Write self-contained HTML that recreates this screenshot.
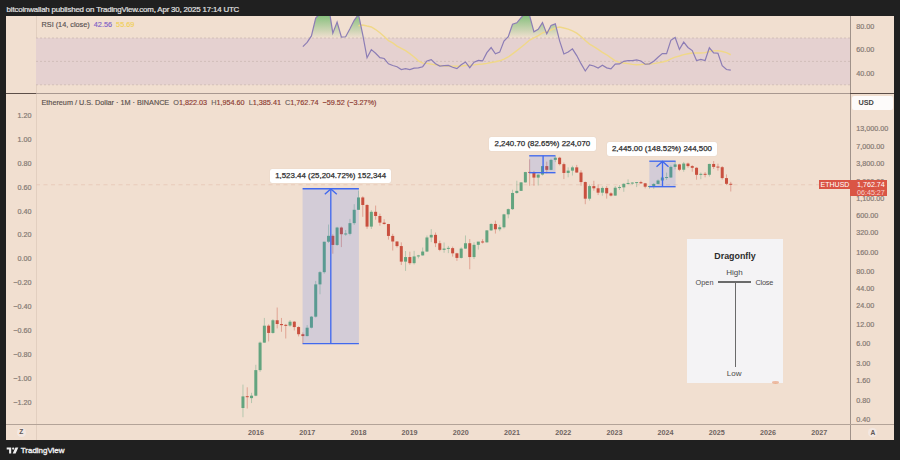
<!DOCTYPE html>
<html><head><meta charset="utf-8">
<style>
*{margin:0;padding:0;box-sizing:border-box}
html,body{width:900px;height:460px;overflow:hidden;background:#202020;font-family:"Liberation Sans",Arial,sans-serif}
.hdr{-webkit-text-stroke:0.2px #e2e2e2;position:absolute;left:6.6px;top:4.6px;font-size:7.9px;letter-spacing:-0.17px;color:#e2e2e2;white-space:nowrap}
.panel{position:absolute;left:6px;top:16px;width:888px;height:424px;background:#f1dfd0;overflow:hidden}
svg{position:absolute;left:0;top:0;overflow:hidden}
.ax{position:absolute;font-size:7.2px;color:#857a74;white-space:nowrap;line-height:1}
.lax{right:868.5px;text-align:right}
.rax{left:856.3px;-webkit-text-stroke:0.2px #857a74;margin-top:0.3px}
.lax{-webkit-text-stroke:0.2px #857a74}
.yr{position:absolute;top:428.5px;font-size:7.2px;font-weight:bold;color:#6e6360;transform:translateX(-50%);line-height:1}
.lbl{position:absolute;background:#fff;border-radius:2px;-webkit-text-stroke:0.25px #2e2e2e;font-size:7.9px;color:#2e2e2e;white-space:nowrap;text-align:center;line-height:14px;box-shadow:0 0 1px rgba(0,0,0,0.15)}
.foot{position:absolute;left:20.8px;top:446px;font-size:7.95px;color:#f0f0f0;font-weight:normal;-webkit-text-stroke:0.35px #f0f0f0;white-space:nowrap}
</style></head><body>
<div class="hdr">bitcoinwallah published on TradingView.com, Apr 30, 2025 17:14 UTC</div>
<div class="panel"></div>
<svg width="900" height="460" viewBox="0 0 900 460" style="position:absolute;left:0;top:0">
  <!-- pane borders -->
  <line x1="36.5" y1="16" x2="36.5" y2="440" stroke="#e2cfc0" stroke-width="1"/>
  <line x1="850.5" y1="16" x2="850.5" y2="440" stroke="#a0928a" stroke-width="1"/>
  <line x1="6" y1="93.5" x2="36" y2="93.5" stroke="#5c4e48" stroke-width="1"/>
  <line x1="36" y1="93.5" x2="850" y2="93.5" stroke="#a89890" stroke-width="1"/>
  <line x1="850" y1="93.5" x2="894" y2="93.5" stroke="#5c4e48" stroke-width="1"/>
  <line x1="6" y1="424.5" x2="894" y2="424.5" stroke="#b3a398" stroke-width="1"/>
</svg>

<svg width="814" height="77" viewBox="36 16 814 77" style="left:36px;top:16px">
  <defs>
    <linearGradient id="gg" x1="0" y1="2.9" x2="0" y2="38.0" gradientUnits="userSpaceOnUse">
      <stop offset="0" stop-color="#4caf50" stop-opacity="1"/>
      <stop offset="1" stop-color="#4caf50" stop-opacity="0"/>
    </linearGradient>
  </defs>
  <rect x="36" y="38.00" width="814" height="46.80" fill="#e5d1d0"/>
  <line x1="36" x2="850" y1="38.00" y2="38.00" stroke="#c9b6b0" stroke-width="0.7" stroke-dasharray="2 2"/>
  <line x1="36" x2="850" y1="61.40" y2="61.40" stroke="#c9b6b0" stroke-width="0.7" stroke-dasharray="2 2"/>
  <line x1="36" x2="850" y1="84.80" y2="84.80" stroke="#c9b6b0" stroke-width="0.7" stroke-dasharray="2 2"/>
  <polygon points="302.87,38.00 302.87,38.00 307.15,38.00 311.43,35.95 315.71,18.13 319.99,13.30 324.26,6.49 328.54,5.77 332.82,33.10 337.10,22.04 341.38,37.00 345.66,36.73 349.94,28.76 354.22,20.28 358.50,14.36 362.77,34.96 367.05,38.00 371.33,38.00 375.61,38.00 379.89,38.00 384.17,38.00 388.45,38.00 392.73,38.00 397.01,38.00 401.29,38.00 405.56,38.00 409.84,38.00 414.12,38.00 418.40,38.00 422.68,38.00 426.96,38.00 431.24,38.00 435.52,38.00 439.80,38.00 444.08,38.00 448.36,38.00 452.63,38.00 456.91,38.00 461.19,38.00 465.47,38.00 469.75,38.00 474.03,38.00 478.31,38.00 482.59,38.00 486.87,38.00 491.14,38.00 495.42,38.00 499.70,38.00 503.98,38.00 508.26,36.67 512.54,24.24 516.82,22.84 521.10,17.71 525.38,12.95 529.66,15.73 533.93,31.86 538.21,29.21 542.49,22.56 546.77,33.85 551.05,25.45 555.33,23.82 559.61,38.00 563.89,38.00 568.17,38.00 572.45,38.00 576.73,38.00 581.00,38.00 585.28,38.00 589.56,38.00 593.84,38.00 598.12,38.00 602.40,38.00 606.68,38.00 610.96,38.00 615.24,38.00 619.51,38.00 623.79,38.00 628.07,38.00 632.35,38.00 636.63,38.00 640.91,38.00 645.19,38.00 649.47,38.00 653.75,38.00 658.03,38.00 662.31,38.00 666.58,38.00 670.86,38.00 675.14,37.46 679.42,38.00 683.70,38.00 687.98,38.00 692.26,38.00 696.54,38.00 700.82,38.00 705.10,38.00 709.37,38.00 713.65,38.00 717.93,38.00 722.21,38.00 726.49,38.00 730.77,38.00 730.77,38.00" fill="url(#gg)"/>
  <polyline points="358.50,25.78 362.77,24.95 367.05,26.04 371.33,27.02 375.61,29.53 379.89,32.70 384.17,36.42 388.45,40.56 392.73,42.88 397.01,46.07 401.29,48.40 405.56,50.68 409.84,53.60 414.12,57.03 418.40,60.85 422.68,63.12 426.96,63.35 431.24,64.07 435.52,64.82 439.80,65.42 444.08,65.93 448.36,66.05 452.63,66.17 456.91,66.31 461.19,65.97 465.47,65.49 469.75,65.34 474.03,64.92 478.31,64.39 482.59,63.98 486.87,63.38 491.14,62.52 495.42,61.80 499.70,60.80 503.98,59.05 508.26,57.00 512.54,53.92 516.82,50.65 521.10,47.29 525.38,43.79 529.66,40.08 533.93,37.90 538.21,35.67 542.49,32.93 546.77,31.59 551.05,30.00 555.33,27.87 559.61,27.06 563.89,27.98 568.17,29.07 572.45,30.83 576.73,33.17 581.00,36.45 585.28,40.60 589.56,44.11 593.84,46.55 598.12,49.31 602.40,52.37 606.68,54.80 610.96,57.90 615.24,60.78 619.51,62.43 623.79,62.95 628.07,63.58 632.35,64.42 636.63,64.72 640.91,64.53 645.19,64.05 649.47,63.97 653.75,63.63 658.03,62.87 662.31,62.04 666.58,61.02 670.86,58.98 675.14,57.07 679.42,56.03 683.70,54.66 687.98,53.72 692.26,53.00 696.54,53.04 700.82,52.93 705.10,52.66 709.37,51.52 713.65,50.91 717.93,50.62 722.21,51.48 726.49,52.62 730.77,54.75" fill="none" stroke="#f0d888" stroke-width="1.4"/>
  <polyline points="302.87,46.63 307.15,42.40 311.43,35.95 315.71,18.13 319.99,13.30 324.26,6.49 328.54,5.77 332.82,33.10 337.10,22.04 341.38,37.00 345.66,36.73 349.94,28.76 354.22,20.28 358.50,14.36 362.77,34.96 367.05,57.74 371.33,49.66 375.61,53.24 379.89,57.71 384.17,58.51 388.45,63.80 392.73,65.52 397.01,66.72 401.29,69.60 405.56,68.69 409.84,69.65 414.12,68.18 418.40,67.91 422.68,66.73 426.96,61.01 431.24,59.66 435.52,63.75 439.80,66.13 444.08,65.63 448.36,65.44 452.63,67.29 456.91,68.69 461.19,64.77 465.47,61.95 469.75,67.68 474.03,62.25 478.31,60.47 482.59,60.93 486.87,52.68 491.14,47.60 495.42,53.73 499.70,52.11 503.98,41.15 508.26,36.67 512.54,24.24 516.82,22.84 521.10,17.71 525.38,12.95 529.66,15.73 533.93,31.86 538.21,29.21 542.49,22.56 546.77,33.85 551.05,25.45 555.33,23.82 559.61,40.84 563.89,54.00 568.17,51.95 572.45,48.85 576.73,55.56 581.00,63.66 585.28,71.01 589.56,64.92 593.84,65.99 598.12,67.95 602.40,65.31 606.68,67.88 610.96,68.82 615.24,64.18 619.51,63.94 623.79,61.29 628.07,60.70 632.35,60.64 636.63,59.80 640.91,61.00 645.19,64.25 649.47,63.81 653.75,61.29 658.03,57.27 662.31,53.64 666.58,53.62 670.86,40.30 675.14,37.46 679.42,49.33 683.70,42.14 687.98,47.46 692.26,50.59 696.54,60.46 700.82,59.39 705.10,60.51 709.37,47.81 713.65,52.81 717.93,53.24 722.21,65.62 726.49,69.55 730.77,70.10" fill="none" stroke="#8c7db5" stroke-width="1.2"/>
</svg>

<svg width="814" height="330.5" viewBox="36 94 814 330.5" style="left:36px;top:94px">
  <line x1="36" x2="850" y1="184.75" y2="184.75" stroke="#e9c6b6" stroke-width="0.8" stroke-dasharray="4 3.5"/>
  <line x1="242.96" y1="384.61" x2="242.96" y2="417.19" stroke="#63a47f" stroke-width="0.7" stroke-opacity="0.6"/>
<rect x="241.46" y="396.39" width="3" height="11.62" fill="#63a47f"/>
<line x1="247.24" y1="387.30" x2="247.24" y2="408.52" stroke="#c9503f" stroke-width="0.7" stroke-opacity="0.6"/>
<rect x="245.74" y="396.19" width="3" height="1.00" fill="#c9503f"/>
<line x1="251.52" y1="392.80" x2="251.52" y2="403.09" stroke="#63a47f" stroke-width="0.7" stroke-opacity="0.6"/>
<rect x="250.02" y="395.69" width="3" height="2.43" fill="#63a47f"/>
<line x1="255.80" y1="364.79" x2="255.80" y2="396.23" stroke="#63a47f" stroke-width="0.7" stroke-opacity="0.6"/>
<rect x="254.30" y="370.11" width="3" height="25.58" fill="#63a47f"/>
<line x1="260.08" y1="341.52" x2="260.08" y2="371.84" stroke="#63a47f" stroke-width="0.7" stroke-opacity="0.6"/>
<rect x="258.58" y="342.62" width="3" height="27.49" fill="#63a47f"/>
<line x1="264.36" y1="317.94" x2="264.36" y2="342.85" stroke="#63a47f" stroke-width="0.7" stroke-opacity="0.6"/>
<rect x="262.86" y="325.68" width="3" height="16.94" fill="#63a47f"/>
<line x1="268.64" y1="324.37" x2="268.64" y2="341.40" stroke="#c9503f" stroke-width="0.7" stroke-opacity="0.6"/>
<rect x="267.14" y="325.68" width="3" height="7.27" fill="#c9503f"/>
<line x1="272.92" y1="319.07" x2="272.92" y2="333.69" stroke="#63a47f" stroke-width="0.7" stroke-opacity="0.6"/>
<rect x="271.42" y="320.26" width="3" height="12.70" fill="#63a47f"/>
<line x1="277.19" y1="307.54" x2="277.19" y2="328.37" stroke="#c9503f" stroke-width="0.7" stroke-opacity="0.6"/>
<rect x="275.69" y="320.26" width="3" height="3.74" fill="#c9503f"/>
<line x1="281.47" y1="317.94" x2="281.47" y2="331.80" stroke="#c9503f" stroke-width="0.7" stroke-opacity="0.6"/>
<rect x="279.97" y="324.00" width="3" height="1.15" fill="#c9503f"/>
<line x1="285.75" y1="323.91" x2="285.75" y2="338.47" stroke="#c9503f" stroke-width="0.7" stroke-opacity="0.6"/>
<rect x="284.25" y="324.85" width="3" height="1.00" fill="#c9503f"/>
<line x1="290.03" y1="320.05" x2="290.03" y2="326.80" stroke="#63a47f" stroke-width="0.7" stroke-opacity="0.6"/>
<rect x="288.53" y="321.70" width="3" height="3.86" fill="#63a47f"/>
<line x1="294.31" y1="321.07" x2="294.31" y2="330.47" stroke="#c9503f" stroke-width="0.7" stroke-opacity="0.6"/>
<rect x="292.81" y="321.70" width="3" height="5.36" fill="#c9503f"/>
<line x1="298.59" y1="326.30" x2="298.59" y2="336.42" stroke="#c9503f" stroke-width="0.7" stroke-opacity="0.6"/>
<rect x="297.09" y="327.06" width="3" height="7.16" fill="#c9503f"/>
<line x1="302.87" y1="332.42" x2="302.87" y2="343.58" stroke="#c9503f" stroke-width="0.7" stroke-opacity="0.6"/>
<rect x="301.37" y="334.22" width="3" height="1.85" fill="#c9503f"/>
<line x1="307.15" y1="325.08" x2="307.15" y2="336.42" stroke="#63a47f" stroke-width="0.7" stroke-opacity="0.6"/>
<rect x="305.65" y="327.71" width="3" height="8.36" fill="#63a47f"/>
<line x1="311.43" y1="315.97" x2="311.43" y2="328.37" stroke="#63a47f" stroke-width="0.7" stroke-opacity="0.6"/>
<rect x="309.93" y="316.67" width="3" height="11.04" fill="#63a47f"/>
<line x1="315.71" y1="280.92" x2="315.71" y2="317.57" stroke="#63a47f" stroke-width="0.7" stroke-opacity="0.6"/>
<rect x="314.21" y="284.38" width="3" height="32.29" fill="#63a47f"/>
<line x1="319.99" y1="271.07" x2="319.99" y2="294.26" stroke="#63a47f" stroke-width="0.7" stroke-opacity="0.6"/>
<rect x="318.49" y="272.17" width="3" height="12.21" fill="#63a47f"/>
<line x1="324.26" y1="241.73" x2="324.26" y2="273.66" stroke="#63a47f" stroke-width="0.7" stroke-opacity="0.6"/>
<rect x="322.76" y="241.73" width="3" height="30.44" fill="#63a47f"/>
<line x1="328.54" y1="224.55" x2="328.54" y2="242.98" stroke="#63a47f" stroke-width="0.7" stroke-opacity="0.6"/>
<rect x="327.04" y="235.83" width="3" height="5.90" fill="#63a47f"/>
<line x1="332.82" y1="234.30" x2="332.82" y2="253.69" stroke="#c9503f" stroke-width="0.7" stroke-opacity="0.6"/>
<rect x="331.32" y="235.83" width="3" height="9.12" fill="#c9503f"/>
<line x1="337.10" y1="226.81" x2="337.10" y2="245.93" stroke="#63a47f" stroke-width="0.7" stroke-opacity="0.6"/>
<rect x="335.60" y="227.54" width="3" height="17.42" fill="#63a47f"/>
<line x1="341.38" y1="226.60" x2="341.38" y2="247.08" stroke="#c9503f" stroke-width="0.7" stroke-opacity="0.6"/>
<rect x="339.88" y="227.54" width="3" height="6.67" fill="#c9503f"/>
<line x1="345.66" y1="229.99" x2="345.66" y2="235.83" stroke="#63a47f" stroke-width="0.7" stroke-opacity="0.6"/>
<rect x="344.16" y="233.47" width="3" height="1.00" fill="#63a47f"/>
<line x1="349.94" y1="218.91" x2="349.94" y2="235.34" stroke="#63a47f" stroke-width="0.7" stroke-opacity="0.6"/>
<rect x="348.44" y="223.14" width="3" height="10.70" fill="#63a47f"/>
<line x1="354.22" y1="204.19" x2="354.22" y2="224.88" stroke="#63a47f" stroke-width="0.7" stroke-opacity="0.6"/>
<rect x="352.72" y="209.80" width="3" height="13.34" fill="#63a47f"/>
<line x1="358.50" y1="190.56" x2="358.50" y2="210.00" stroke="#63a47f" stroke-width="0.7" stroke-opacity="0.6"/>
<rect x="357.00" y="197.46" width="3" height="12.34" fill="#63a47f"/>
<line x1="362.77" y1="196.34" x2="362.77" y2="216.83" stroke="#c9503f" stroke-width="0.7" stroke-opacity="0.6"/>
<rect x="361.27" y="197.46" width="3" height="7.53" fill="#c9503f"/>
<line x1="367.05" y1="204.19" x2="367.05" y2="228.81" stroke="#c9503f" stroke-width="0.7" stroke-opacity="0.6"/>
<rect x="365.55" y="204.99" width="3" height="21.61" fill="#c9503f"/>
<line x1="371.33" y1="210.19" x2="371.33" y2="228.97" stroke="#63a47f" stroke-width="0.7" stroke-opacity="0.6"/>
<rect x="369.83" y="211.82" width="3" height="14.79" fill="#63a47f"/>
<line x1="375.61" y1="205.56" x2="375.61" y2="219.73" stroke="#c9503f" stroke-width="0.7" stroke-opacity="0.6"/>
<rect x="374.11" y="211.82" width="3" height="4.18" fill="#c9503f"/>
<line x1="379.89" y1="213.67" x2="379.89" y2="225.70" stroke="#c9503f" stroke-width="0.7" stroke-opacity="0.6"/>
<rect x="378.39" y="216.00" width="3" height="6.65" fill="#c9503f"/>
<line x1="384.17" y1="219.18" x2="384.17" y2="224.55" stroke="#c9503f" stroke-width="0.7" stroke-opacity="0.6"/>
<rect x="382.67" y="222.64" width="3" height="1.39" fill="#c9503f"/>
<line x1="388.45" y1="223.90" x2="388.45" y2="239.63" stroke="#c9503f" stroke-width="0.7" stroke-opacity="0.6"/>
<rect x="386.95" y="224.03" width="3" height="11.90" fill="#c9503f"/>
<line x1="392.73" y1="233.84" x2="392.73" y2="250.52" stroke="#c9503f" stroke-width="0.7" stroke-opacity="0.6"/>
<rect x="391.23" y="235.93" width="3" height="5.56" fill="#c9503f"/>
<line x1="397.01" y1="241.37" x2="397.01" y2="247.53" stroke="#c9503f" stroke-width="0.7" stroke-opacity="0.6"/>
<rect x="395.51" y="241.49" width="3" height="4.58" fill="#c9503f"/>
<line x1="401.29" y1="242.35" x2="401.29" y2="265.04" stroke="#c9503f" stroke-width="0.7" stroke-opacity="0.6"/>
<rect x="399.79" y="246.07" width="3" height="15.55" fill="#c9503f"/>
<line x1="405.56" y1="251.03" x2="405.56" y2="270.94" stroke="#63a47f" stroke-width="0.7" stroke-opacity="0.6"/>
<rect x="404.06" y="257.06" width="3" height="4.56" fill="#63a47f"/>
<line x1="409.84" y1="251.71" x2="409.84" y2="264.76" stroke="#c9503f" stroke-width="0.7" stroke-opacity="0.6"/>
<rect x="408.34" y="257.06" width="3" height="6.09" fill="#c9503f"/>
<line x1="414.12" y1="250.86" x2="414.12" y2="264.49" stroke="#63a47f" stroke-width="0.7" stroke-opacity="0.6"/>
<rect x="412.62" y="256.44" width="3" height="6.71" fill="#63a47f"/>
<line x1="418.40" y1="254.84" x2="418.40" y2="258.35" stroke="#63a47f" stroke-width="0.7" stroke-opacity="0.6"/>
<rect x="416.90" y="255.43" width="3" height="1.01" fill="#63a47f"/>
<line x1="422.68" y1="247.53" x2="422.68" y2="255.62" stroke="#63a47f" stroke-width="0.7" stroke-opacity="0.6"/>
<rect x="421.18" y="251.54" width="3" height="3.88" fill="#63a47f"/>
<line x1="426.96" y1="235.54" x2="426.96" y2="252.06" stroke="#63a47f" stroke-width="0.7" stroke-opacity="0.6"/>
<rect x="425.46" y="237.46" width="3" height="14.09" fill="#63a47f"/>
<line x1="431.24" y1="229.12" x2="431.24" y2="242.10" stroke="#63a47f" stroke-width="0.7" stroke-opacity="0.6"/>
<rect x="429.74" y="234.86" width="3" height="2.59" fill="#63a47f"/>
<line x1="435.52" y1="232.49" x2="435.52" y2="247.08" stroke="#c9503f" stroke-width="0.7" stroke-opacity="0.6"/>
<rect x="434.02" y="234.86" width="3" height="8.37" fill="#c9503f"/>
<line x1="439.80" y1="240.66" x2="439.80" y2="251.20" stroke="#c9503f" stroke-width="0.7" stroke-opacity="0.6"/>
<rect x="438.30" y="243.23" width="3" height="6.63" fill="#c9503f"/>
<line x1="444.08" y1="242.47" x2="444.08" y2="252.78" stroke="#63a47f" stroke-width="0.7" stroke-opacity="0.6"/>
<rect x="442.58" y="248.59" width="3" height="1.27" fill="#63a47f"/>
<line x1="448.36" y1="245.93" x2="448.36" y2="253.14" stroke="#63a47f" stroke-width="0.7" stroke-opacity="0.6"/>
<rect x="446.86" y="247.86" width="3" height="1.00" fill="#63a47f"/>
<line x1="452.63" y1="246.64" x2="452.63" y2="256.64" stroke="#c9503f" stroke-width="0.7" stroke-opacity="0.6"/>
<rect x="451.13" y="248.13" width="3" height="5.19" fill="#c9503f"/>
<line x1="456.91" y1="252.78" x2="456.91" y2="260.89" stroke="#c9503f" stroke-width="0.7" stroke-opacity="0.6"/>
<rect x="455.41" y="253.32" width="3" height="4.59" fill="#c9503f"/>
<line x1="461.19" y1="247.38" x2="461.19" y2="258.57" stroke="#63a47f" stroke-width="0.7" stroke-opacity="0.6"/>
<rect x="459.69" y="248.59" width="3" height="9.32" fill="#63a47f"/>
<line x1="465.47" y1="235.44" x2="465.47" y2="248.91" stroke="#63a47f" stroke-width="0.7" stroke-opacity="0.6"/>
<rect x="463.97" y="243.23" width="3" height="5.36" fill="#63a47f"/>
<line x1="469.75" y1="239.07" x2="469.75" y2="269.26" stroke="#c9503f" stroke-width="0.7" stroke-opacity="0.6"/>
<rect x="468.25" y="243.23" width="3" height="13.83" fill="#c9503f"/>
<line x1="474.03" y1="242.22" x2="474.03" y2="259.02" stroke="#63a47f" stroke-width="0.7" stroke-opacity="0.6"/>
<rect x="472.53" y="244.82" width="3" height="12.24" fill="#63a47f"/>
<line x1="478.31" y1="241.98" x2="478.31" y2="249.54" stroke="#63a47f" stroke-width="0.7" stroke-opacity="0.6"/>
<rect x="476.81" y="241.61" width="3" height="3.21" fill="#63a47f"/>
<line x1="482.59" y1="239.18" x2="482.59" y2="243.49" stroke="#c9503f" stroke-width="0.7" stroke-opacity="0.6"/>
<rect x="481.09" y="241.48" width="3" height="1.00" fill="#c9503f"/>
<line x1="486.87" y1="230.07" x2="486.87" y2="242.60" stroke="#63a47f" stroke-width="0.7" stroke-opacity="0.6"/>
<rect x="485.37" y="230.39" width="3" height="11.96" fill="#63a47f"/>
<line x1="491.14" y1="223.20" x2="491.14" y2="230.88" stroke="#63a47f" stroke-width="0.7" stroke-opacity="0.6"/>
<rect x="489.64" y="223.97" width="3" height="6.42" fill="#63a47f"/>
<line x1="495.42" y1="220.69" x2="495.42" y2="233.56" stroke="#c9503f" stroke-width="0.7" stroke-opacity="0.6"/>
<rect x="493.92" y="223.97" width="3" height="5.31" fill="#c9503f"/>
<line x1="499.70" y1="224.82" x2="499.70" y2="231.21" stroke="#63a47f" stroke-width="0.7" stroke-opacity="0.6"/>
<rect x="498.20" y="227.25" width="3" height="2.03" fill="#63a47f"/>
<line x1="503.98" y1="213.85" x2="503.98" y2="228.51" stroke="#63a47f" stroke-width="0.7" stroke-opacity="0.6"/>
<rect x="502.48" y="214.35" width="3" height="12.90" fill="#63a47f"/>
<line x1="508.26" y1="208.47" x2="508.26" y2="218.32" stroke="#63a47f" stroke-width="0.7" stroke-opacity="0.6"/>
<rect x="506.76" y="209.15" width="3" height="5.20" fill="#63a47f"/>
<line x1="512.54" y1="189.73" x2="512.54" y2="210.00" stroke="#63a47f" stroke-width="0.7" stroke-opacity="0.6"/>
<rect x="511.04" y="192.97" width="3" height="16.18" fill="#63a47f"/>
<line x1="516.82" y1="180.72" x2="516.82" y2="193.86" stroke="#63a47f" stroke-width="0.7" stroke-opacity="0.6"/>
<rect x="515.32" y="190.88" width="3" height="2.09" fill="#63a47f"/>
<line x1="521.10" y1="182.02" x2="521.10" y2="190.48" stroke="#63a47f" stroke-width="0.7" stroke-opacity="0.6"/>
<rect x="519.60" y="182.39" width="3" height="8.49" fill="#63a47f"/>
<line x1="525.38" y1="171.83" x2="525.38" y2="182.65" stroke="#63a47f" stroke-width="0.7" stroke-opacity="0.6"/>
<rect x="523.88" y="172.07" width="3" height="10.32" fill="#63a47f"/>
<line x1="529.66" y1="159.28" x2="529.66" y2="185.76" stroke="#c9503f" stroke-width="0.7" stroke-opacity="0.6"/>
<rect x="528.16" y="171.91" width="3" height="1.00" fill="#c9503f"/>
<line x1="533.93" y1="170.91" x2="533.93" y2="185.76" stroke="#c9503f" stroke-width="0.7" stroke-opacity="0.6"/>
<rect x="532.43" y="172.74" width="3" height="4.86" fill="#c9503f"/>
<line x1="538.21" y1="174.42" x2="538.21" y2="185.47" stroke="#63a47f" stroke-width="0.7" stroke-opacity="0.6"/>
<rect x="536.71" y="174.57" width="3" height="3.04" fill="#63a47f"/>
<line x1="542.49" y1="165.80" x2="542.49" y2="175.54" stroke="#63a47f" stroke-width="0.7" stroke-opacity="0.6"/>
<rect x="540.99" y="166.10" width="3" height="8.47" fill="#63a47f"/>
<line x1="546.77" y1="161.63" x2="546.77" y2="173.34" stroke="#c9503f" stroke-width="0.7" stroke-opacity="0.6"/>
<rect x="545.27" y="166.10" width="3" height="3.76" fill="#c9503f"/>
<line x1="551.05" y1="158.77" x2="551.05" y2="170.15" stroke="#63a47f" stroke-width="0.7" stroke-opacity="0.6"/>
<rect x="549.55" y="159.87" width="3" height="10.00" fill="#63a47f"/>
<line x1="555.33" y1="156.31" x2="555.33" y2="162.10" stroke="#63a47f" stroke-width="0.7" stroke-opacity="0.6"/>
<rect x="553.83" y="157.72" width="3" height="2.15" fill="#63a47f"/>
<line x1="559.61" y1="156.83" x2="559.61" y2="165.40" stroke="#c9503f" stroke-width="0.7" stroke-opacity="0.6"/>
<rect x="558.11" y="157.72" width="3" height="6.42" fill="#c9503f"/>
<line x1="563.89" y1="162.53" x2="563.89" y2="179.06" stroke="#c9503f" stroke-width="0.7" stroke-opacity="0.6"/>
<rect x="562.39" y="164.14" width="3" height="8.80" fill="#c9503f"/>
<line x1="568.17" y1="167.37" x2="568.17" y2="177.30" stroke="#63a47f" stroke-width="0.7" stroke-opacity="0.6"/>
<rect x="566.67" y="170.63" width="3" height="2.32" fill="#63a47f"/>
<line x1="572.45" y1="165.72" x2="572.45" y2="175.54" stroke="#63a47f" stroke-width="0.7" stroke-opacity="0.6"/>
<rect x="570.95" y="167.36" width="3" height="3.27" fill="#63a47f"/>
<line x1="576.73" y1="164.92" x2="576.73" y2="172.71" stroke="#c9503f" stroke-width="0.7" stroke-opacity="0.6"/>
<rect x="575.23" y="167.36" width="3" height="5.18" fill="#c9503f"/>
<line x1="581.00" y1="170.24" x2="581.00" y2="185.76" stroke="#c9503f" stroke-width="0.7" stroke-opacity="0.6"/>
<rect x="579.50" y="172.54" width="3" height="9.50" fill="#c9503f"/>
<line x1="585.28" y1="181.59" x2="585.28" y2="204.19" stroke="#c9503f" stroke-width="0.7" stroke-opacity="0.6"/>
<rect x="583.78" y="182.04" width="3" height="16.65" fill="#c9503f"/>
<line x1="589.56" y1="184.48" x2="589.56" y2="200.61" stroke="#63a47f" stroke-width="0.7" stroke-opacity="0.6"/>
<rect x="588.06" y="186.11" width="3" height="12.58" fill="#63a47f"/>
<line x1="593.84" y1="180.80" x2="593.84" y2="190.76" stroke="#c9503f" stroke-width="0.7" stroke-opacity="0.6"/>
<rect x="592.34" y="186.11" width="3" height="2.18" fill="#c9503f"/>
<line x1="598.12" y1="184.32" x2="598.12" y2="195.05" stroke="#c9503f" stroke-width="0.7" stroke-opacity="0.6"/>
<rect x="596.62" y="188.29" width="3" height="4.38" fill="#c9503f"/>
<line x1="602.40" y1="186.34" x2="602.40" y2="195.74" stroke="#63a47f" stroke-width="0.7" stroke-opacity="0.6"/>
<rect x="600.90" y="187.95" width="3" height="4.72" fill="#63a47f"/>
<line x1="606.68" y1="186.09" x2="606.68" y2="198.61" stroke="#c9503f" stroke-width="0.7" stroke-opacity="0.6"/>
<rect x="605.18" y="187.95" width="3" height="5.40" fill="#c9503f"/>
<line x1="610.96" y1="192.17" x2="610.96" y2="196.46" stroke="#c9503f" stroke-width="0.7" stroke-opacity="0.6"/>
<rect x="609.46" y="193.35" width="3" height="2.25" fill="#c9503f"/>
<line x1="615.24" y1="186.09" x2="615.24" y2="195.74" stroke="#63a47f" stroke-width="0.7" stroke-opacity="0.6"/>
<rect x="613.74" y="187.72" width="3" height="7.88" fill="#63a47f"/>
<line x1="619.51" y1="185.11" x2="619.51" y2="190.02" stroke="#63a47f" stroke-width="0.7" stroke-opacity="0.6"/>
<rect x="618.01" y="187.05" width="3" height="1.00" fill="#63a47f"/>
<line x1="623.79" y1="183.25" x2="623.79" y2="191.80" stroke="#63a47f" stroke-width="0.7" stroke-opacity="0.6"/>
<rect x="622.29" y="183.82" width="3" height="3.55" fill="#63a47f"/>
<line x1="628.07" y1="179.32" x2="628.07" y2="184.79" stroke="#63a47f" stroke-width="0.7" stroke-opacity="0.6"/>
<rect x="626.57" y="182.96" width="3" height="1.00" fill="#63a47f"/>
<line x1="632.35" y1="182.21" x2="632.35" y2="184.79" stroke="#63a47f" stroke-width="0.7" stroke-opacity="0.6"/>
<rect x="630.85" y="182.57" width="3" height="1.00" fill="#63a47f"/>
<line x1="636.63" y1="182.21" x2="636.63" y2="187.11" stroke="#63a47f" stroke-width="0.7" stroke-opacity="0.6"/>
<rect x="635.13" y="182.09" width="3" height="1.00" fill="#63a47f"/>
<line x1="640.91" y1="180.80" x2="640.91" y2="183.85" stroke="#c9503f" stroke-width="0.7" stroke-opacity="0.6"/>
<rect x="639.41" y="182.15" width="3" height="1.15" fill="#c9503f"/>
<line x1="645.19" y1="182.95" x2="645.19" y2="188.35" stroke="#c9503f" stroke-width="0.7" stroke-opacity="0.6"/>
<rect x="643.69" y="183.31" width="3" height="3.38" fill="#c9503f"/>
<line x1="649.47" y1="185.76" x2="649.47" y2="188.71" stroke="#63a47f" stroke-width="0.7" stroke-opacity="0.6"/>
<rect x="647.97" y="185.96" width="3" height="1.00" fill="#63a47f"/>
<line x1="653.75" y1="183.17" x2="653.75" y2="188.89" stroke="#63a47f" stroke-width="0.7" stroke-opacity="0.6"/>
<rect x="652.25" y="183.95" width="3" height="2.30" fill="#63a47f"/>
<line x1="658.03" y1="179.45" x2="658.03" y2="184.55" stroke="#63a47f" stroke-width="0.7" stroke-opacity="0.6"/>
<rect x="656.53" y="180.50" width="3" height="3.45" fill="#63a47f"/>
<line x1="662.31" y1="175.88" x2="662.31" y2="180.52" stroke="#63a47f" stroke-width="0.7" stroke-opacity="0.6"/>
<rect x="660.81" y="177.52" width="3" height="2.97" fill="#63a47f"/>
<line x1="666.58" y1="172.61" x2="666.58" y2="179.85" stroke="#63a47f" stroke-width="0.7" stroke-opacity="0.6"/>
<rect x="665.08" y="177.02" width="3" height="1.00" fill="#63a47f"/>
<line x1="670.86" y1="165.40" x2="670.86" y2="177.79" stroke="#63a47f" stroke-width="0.7" stroke-opacity="0.6"/>
<rect x="669.36" y="166.87" width="3" height="10.65" fill="#63a47f"/>
<line x1="675.14" y1="161.20" x2="675.14" y2="169.31" stroke="#63a47f" stroke-width="0.7" stroke-opacity="0.6"/>
<rect x="673.64" y="164.40" width="3" height="2.46" fill="#63a47f"/>
<line x1="679.42" y1="163.77" x2="679.42" y2="171.11" stroke="#c9503f" stroke-width="0.7" stroke-opacity="0.6"/>
<rect x="677.92" y="164.40" width="3" height="5.33" fill="#c9503f"/>
<line x1="683.70" y1="161.96" x2="683.70" y2="171.70" stroke="#63a47f" stroke-width="0.7" stroke-opacity="0.6"/>
<rect x="682.20" y="163.54" width="3" height="6.19" fill="#63a47f"/>
<line x1="687.98" y1="162.60" x2="687.98" y2="167.72" stroke="#c9503f" stroke-width="0.7" stroke-opacity="0.6"/>
<rect x="686.48" y="163.54" width="3" height="2.56" fill="#c9503f"/>
<line x1="692.26" y1="165.08" x2="692.26" y2="171.70" stroke="#c9503f" stroke-width="0.7" stroke-opacity="0.6"/>
<rect x="690.76" y="166.10" width="3" height="1.69" fill="#c9503f"/>
<line x1="696.54" y1="167.29" x2="696.54" y2="179.72" stroke="#c9503f" stroke-width="0.7" stroke-opacity="0.6"/>
<rect x="695.04" y="167.78" width="3" height="7.04" fill="#c9503f"/>
<line x1="700.82" y1="172.51" x2="700.82" y2="179.19" stroke="#63a47f" stroke-width="0.7" stroke-opacity="0.6"/>
<rect x="699.32" y="173.84" width="3" height="1.00" fill="#63a47f"/>
<line x1="705.10" y1="172.10" x2="705.10" y2="177.30" stroke="#c9503f" stroke-width="0.7" stroke-opacity="0.6"/>
<rect x="703.60" y="173.81" width="3" height="1.00" fill="#c9503f"/>
<line x1="709.37" y1="163.70" x2="709.37" y2="176.58" stroke="#63a47f" stroke-width="0.7" stroke-opacity="0.6"/>
<rect x="707.87" y="163.96" width="3" height="10.81" fill="#63a47f"/>
<line x1="713.65" y1="161.06" x2="713.65" y2="168.95" stroke="#c9503f" stroke-width="0.7" stroke-opacity="0.6"/>
<rect x="712.15" y="163.96" width="3" height="2.97" fill="#c9503f"/>
<line x1="717.93" y1="163.70" x2="717.93" y2="170.63" stroke="#c9503f" stroke-width="0.7" stroke-opacity="0.6"/>
<rect x="716.43" y="166.57" width="3" height="1.00" fill="#c9503f"/>
<line x1="722.21" y1="166.04" x2="722.21" y2="179.58" stroke="#c9503f" stroke-width="0.7" stroke-opacity="0.6"/>
<rect x="720.71" y="167.20" width="3" height="10.88" fill="#c9503f"/>
<line x1="726.49" y1="174.42" x2="726.49" y2="184.87" stroke="#c9503f" stroke-width="0.7" stroke-opacity="0.6"/>
<rect x="724.99" y="178.08" width="3" height="5.74" fill="#c9503f"/>
<line x1="730.77" y1="181.86" x2="730.77" y2="191.49" stroke="#c9503f" stroke-width="0.7" stroke-opacity="0.6"/>
<rect x="729.27" y="183.79" width="3" height="1.00" fill="#c9503f"/>
  <rect x="302.6" y="188.7" width="56.3" height="154.8" fill="rgba(41,98,255,0.15)"/><line x1="302.6" x2="358.9" y1="188.7" y2="188.7" stroke="#4169ee" stroke-width="1.35"/><line x1="302.6" x2="358.9" y1="343.6" y2="343.6" stroke="#4169ee" stroke-width="1.35"/><line x1="330.8" x2="330.8" y1="188.7" y2="343.6" stroke="#4169ee" stroke-width="1.35"/><polyline points="324.8,194.2 330.8,189.0 336.8,194.2" fill="none" stroke="#4169ee" stroke-width="1.35"/>
  <rect x="529.2" y="155.8" width="26.3" height="16.9" fill="rgba(41,98,255,0.15)"/><line x1="529.2" x2="555.5" y1="155.8" y2="155.8" stroke="#4169ee" stroke-width="1.35"/><line x1="529.2" x2="555.5" y1="172.7" y2="172.7" stroke="#4169ee" stroke-width="1.35"/><line x1="543.1" x2="543.1" y1="155.8" y2="172.7" stroke="#4169ee" stroke-width="1.35"/>
  <rect x="649.3" y="161.2" width="26.3" height="25.5" fill="rgba(41,98,255,0.15)"/><line x1="649.3" x2="675.6" y1="161.2" y2="161.2" stroke="#4169ee" stroke-width="1.35"/><line x1="649.3" x2="675.6" y1="186.7" y2="186.7" stroke="#4169ee" stroke-width="1.35"/><line x1="662.5" x2="662.5" y1="161.2" y2="186.7" stroke="#4169ee" stroke-width="1.35"/><polyline points="656.5,166.7 662.5,161.5 668.5,166.7" fill="none" stroke="#4169ee" stroke-width="1.35"/>
</svg>
<!-- RSI legend -->
<div class="ax" style="left:41.5px;top:21.2px;font-size:7.3px;color:#575050;-webkit-text-stroke:0.15px currentColor">RSI (14, close) <span style="color:#7e60c6;margin-left:2px">42.56</span> <span style="color:#f0cf55;margin-left:2px">55.69</span></div>
<div class="ax rax" style="top:22.5px">80.00</div>
<div class="ax rax" style="top:46px">60.00</div>
<div class="ax rax" style="top:69.5px">40.00</div>
<!-- main legend -->
<div class="ax" style="left:41.5px;top:99px;font-size:7.25px;color:#5a504c;-webkit-text-stroke:0.15px currentColor">Ethereum / U.S. Dollar · 1M · BINANCE&nbsp; <span style="color:#6b625e">O</span><span style="color:#8c3a30">1,822.03</span>&nbsp; <span style="color:#6b625e">H</span><span style="color:#8c3a30">1,954.60</span>&nbsp; <span style="color:#6b625e">L</span><span style="color:#8c3a30">1,385.41</span>&nbsp; <span style="color:#6b625e">C</span><span style="color:#8c3a30">1,762.74</span>&nbsp; <span style="color:#8c3a30">−59.52 (−3.27%)</span></div>
<!-- left axis -->
<div class="ax lax" style="top:398.6px">−1.20</div>
<div class="ax lax" style="top:374.7px">−1.00</div>
<div class="ax lax" style="top:350.8px">−0.80</div>
<div class="ax lax" style="top:326.9px">−0.60</div>
<div class="ax lax" style="top:303.1px">−0.40</div>
<div class="ax lax" style="top:279.2px">−0.20</div>
<div class="ax lax" style="top:255.3px">0.00</div>
<div class="ax lax" style="top:231.4px">0.20</div>
<div class="ax lax" style="top:207.5px">0.40</div>
<div class="ax lax" style="top:183.7px">0.60</div>
<div class="ax lax" style="top:159.8px">0.80</div>
<div class="ax lax" style="top:135.9px">1.00</div>
<div class="ax lax" style="top:112.0px">1.20</div>
<!-- right axis -->
<div class="ax rax" style="top:125.2px">13,000.00</div>
<div class="ax rax" style="top:142.6px">7,000.00</div>
<div class="ax rax" style="top:159.7px">3,800.00</div>
<div class="ax rax" style="top:177.6px">2,000.00</div>
<div class="ax rax" style="top:194.3px">1,100.00</div>
<div class="ax rax" style="top:211.3px">600.00</div>
<div class="ax rax" style="top:228.9px">320.00</div>
<div class="ax rax" style="top:248.3px">160.00</div>
<div class="ax rax" style="top:267.7px">80.00</div>
<div class="ax rax" style="top:284.4px">44.00</div>
<div class="ax rax" style="top:301.4px">24.00</div>
<div class="ax rax" style="top:320.8px">12.00</div>
<div class="ax rax" style="top:340.2px">6.00</div>
<div class="ax rax" style="top:359.6px">3.00</div>
<div class="ax rax" style="top:377.1px">1.60</div>
<div class="ax rax" style="top:396.5px">0.80</div>
<div class="ax rax" style="top:415.9px">0.40</div>
<div style="position:absolute;left:852.2px;top:95.5px;width:40.8px;height:14.4px;background:#fdfbfa;border-radius:2px;font-size:7.3px;font-weight:bold;color:#454545;line-height:14.6px;padding-left:6.3px">USD</div>
<!-- price label -->
<div style="position:absolute;left:819px;top:180.4px;width:31.5px;height:8.9px;background:#da5545;color:#fff;font-size:7px;line-height:9.6px;text-align:center;padding-left:0.5px">ETHUSD</div>
<div style="position:absolute;left:850px;top:180.4px;width:37.2px;height:15.6px;background:#da5545;color:#fff;font-size:7.2px;line-height:7.3px;padding-left:6.9px;padding-top:0.9px">1,762.74<br><span style="color:#f6d2cc">06:45:27</span></div>
<!-- time axis -->
<div class="yr" style="left:256.0px">2016</div>
<div class="yr" style="left:307.2px">2017</div>
<div class="yr" style="left:358.4px">2018</div>
<div class="yr" style="left:409.6px">2019</div>
<div class="yr" style="left:460.8px">2020</div>
<div class="yr" style="left:512.0px">2021</div>
<div class="yr" style="left:563.2px">2022</div>
<div class="yr" style="left:614.4px">2023</div>
<div class="yr" style="left:665.6px">2024</div>
<div class="yr" style="left:716.8px">2025</div>
<div class="yr" style="left:768.0px">2026</div>
<div class="yr" style="left:819.2px">2027</div>
<div style="position:absolute;left:17px;top:428px;width:8.6px;height:8.6px;border-radius:50%;background:#f3e8e2"></div>
<div style="position:absolute;left:868.2px;top:428.4px;width:8.6px;height:8.6px;border-radius:50%;background:#f3e8e2"></div>
<div class="ax" style="left:19.3px;top:429.1px;font-size:6.6px;font-weight:bold;color:#5e5654">Z</div>
<div class="ax" style="left:870.5px;top:429.5px;font-size:6.6px;font-weight:bold;color:#5e5654">A</div>
<!-- labels -->
<div class="lbl" style="left:269.8px;top:169.1px;width:121.7px;height:14.4px">1,523.44 (25,204.72%) 152,344</div>
<div class="lbl" style="left:489px;top:136.6px;width:106.7px;height:14.3px">2,240.70 (82.65%) 224,070</div>
<div class="lbl" style="left:606.5px;top:142px;width:110.9px;height:13.7px">2,445.00 (148.52%) 244,500</div>
<!-- dragonfly -->
<div style="position:absolute;left:687px;top:238.7px;width:95.8px;height:144.8px;background:#f4f3f5">
  <div style="position:absolute;left:0;width:96px;top:12px;text-align:center;font-size:8.9px;font-weight:bold;color:#2b2b2b">Dragonfly</div>
  <div style="position:absolute;left:39.3px;top:29.6px;font-size:8px;color:#4a4a4a">High</div>
  <div style="position:absolute;left:8.6px;top:39.1px;font-size:7.3px;color:#4a4a4a">Open</div>
  <div style="position:absolute;left:68.4px;top:39.1px;font-size:7.3px;color:#4a4a4a;letter-spacing:-0.2px">Close</div>
  <div style="position:absolute;left:30.5px;top:42.7px;width:33.8px;height:1.3px;background:#6a6a6a"></div>
  <div style="position:absolute;left:47.7px;top:43px;width:1.25px;height:85.8px;background:#6a6a6a"></div>
  <div style="position:absolute;left:39.8px;top:130.2px;font-size:8px;color:#4a4a4a">Low</div>
  <div style="position:absolute;left:84.5px;top:142px;width:7.5px;height:3px;border-radius:50%;background:#e8956a;opacity:.6"></div>
</div>
<!-- footer -->
<svg width="14" height="8" viewBox="0 0 14 8" style="position:absolute;left:5.5px;top:446.5px">
  <path d="M0.7 0.5H5.2V6.4H3.1V2.5H0.7Z" fill="#f0f0f0"/>
  <circle cx="7.2" cy="1.6" r="1.15" fill="#f0f0f0"/>
  <path d="M9.4 0.5H12.3L9.6 6.4H6.7Z" fill="#f0f0f0"/>
</svg>
<div class="foot">TradingView</div>
</body></html>
